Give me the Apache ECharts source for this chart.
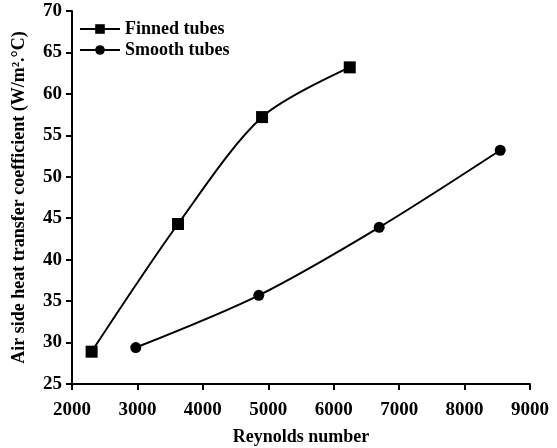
<!DOCTYPE html>
<html><head><meta charset="utf-8">
<script src="https://cdn.jsdelivr.net/npm/echarts@6/dist/echarts.min.js"></script>
<style>html,body{margin:0;padding:0;background:#fff}#c{width:557px;height:448px}</style>
</head><body><div id="c"></div>
<script>
const finnedRe = [2300, 3620, 4905, 6245];
const finnedH = [28.9, 44.3, 57.2, 63.2];
const smoothRe = [2975, 4855, 6695, 8545];
const smoothH = [29.4, 35.7, 43.9, 53.2];
const xTicks = [2000, 3000, 4000, 5000, 6000, 7000, 8000, 9000];
const yTicks = [25, 30, 35, 40, 45, 50, 55, 60, 65, 70];

const font = 'Liberation Serif, Times New Roman, serif';
const chart = echarts.init(document.getElementById('c'));
const axisCommon = {
  axisLine: {show: true, onZero: false, lineStyle: {color: '#000', width: 2}},
  axisTick: {show: true, length: 6, lineStyle: {color: '#000', width: 2}},
  splitLine: {show: false},
  axisLabel: {color: '#000', fontFamily: font, fontSize: 19, fontWeight: 'bold', formatter: v => String(v)},
  nameTextStyle: {color: '#000', fontFamily: font, fontSize: 18, fontWeight: 'bold'}
};
chart.setOption({
  animation: false,
  backgroundColor: '#fff',
  grid: {left: 72, right: 27, top: 11, bottom: 64, containLabel: false, outerBoundsMode: 'none'},
  legend: {
    left: 74, top: 15, orient: 'vertical', itemWidth: 40, itemHeight: 12, itemGap: 3,
    textStyle: {color: '#000', fontFamily: font, fontSize: 18, fontWeight: 'bold'},
    data: ['Finned tubes', 'Smooth tubes']
  },
  xAxis: Object.assign({}, axisCommon, {
    type: 'value', min: xTicks[0], max: xTicks[xTicks.length-1], interval: 1000,
    name: 'Reynolds number', nameLocation: 'middle', nameGap: 44,
    axisLabel: Object.assign({}, axisCommon.axisLabel, {margin: 17})
  }),
  yAxis: Object.assign({}, axisCommon, {
    type: 'value', min: yTicks[0], max: yTicks[yTicks.length-1], interval: 5,
    name: 'Air side heat transfer coefficient (W/m\u00B2.\u00B0C)', nameLocation: 'middle', nameGap: 44,
    axisLabel: Object.assign({}, axisCommon.axisLabel, {margin: 10})
  }),
  series: [
    {name: 'Finned tubes', type: 'line', smooth: 0.3, symbol: 'rect', symbolSize: 12,
     data: finnedRe.map((x, i) => [x, finnedH[i]]),
     lineStyle: {color: '#000', width: 2}, itemStyle: {color: '#000'}},
    {name: 'Smooth tubes', type: 'line', smooth: 0.3, symbol: 'circle', symbolSize: 11,
     data: smoothRe.map((x, i) => [x, smoothH[i]]),
     lineStyle: {color: '#000', width: 2}, itemStyle: {color: '#000'}}
  ]
});
</script></body></html>
